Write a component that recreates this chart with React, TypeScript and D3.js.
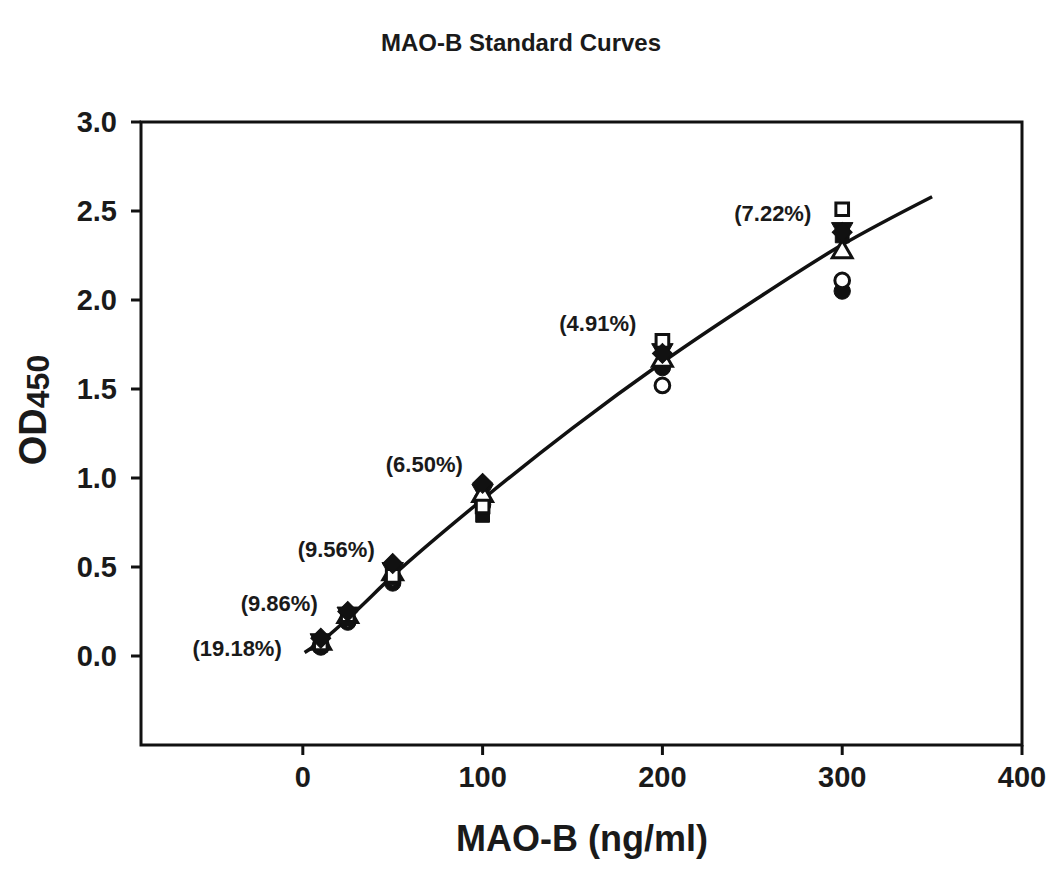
import React, { useEffect, useRef } from "react";
import * as d3 from "d3";

const concentrations = [10, 25, 50, 100, 200, 300];
const filledCircle = [0.05, 0.19, 0.41, 0.85, 1.62, 2.05];
const openCircle = [0.06, 0.2, 0.43, 0.88, 1.52, 2.11];
const filledTriDown = [0.09, 0.24, 0.49, 0.93, 1.72, 2.4];
const openTriUp = [0.07, 0.22, 0.46, 0.9, 1.66, 2.27];
const filledSquare = [0.06, 0.21, 0.44, 0.79, 1.76, 2.36];
const openSquare = [0.07, 0.23, 0.45, 0.84, 1.77, 2.51];
const filledDiamond = [0.1, 0.25, 0.52, 0.97, 1.7, 2.38];

const fitX = [1, 10, 25, 50, 100, 150, 200, 250, 300, 350];
const fitY = [0.02, 0.08, 0.21, 0.45, 0.88, 1.28, 1.65, 1.99, 2.31, 2.58];

const cvLabels = ["(19.18%)", "(9.86%)", "(9.56%)", "(6.50%)", "(4.91%)", "(7.22%)"];
const cvLabelX = [-11.7, 8.3, 40, 89, 185.5, 282.8];
const cvLabelY = [0.045, 0.3, 0.6, 1.08, 1.87, 2.49];

const xTicks = [0, 100, 200, 300, 400];
const yTicks = [0, 0.5, 1, 1.5, 2, 2.5, 3];

const FONT = "'Liberation Sans', Arial, Helvetica, sans-serif";

export default function App() {
  const ref = useRef<SVGSVGElement | null>(null);

  useEffect(() => {
    const svg = d3.select(ref.current);
    svg.selectAll("*").remove();

    const x = d3.scaleLinear().domain([-90, 400]).range([141, 1022]);
    const y = d3.scaleLinear().domain([-0.5, 3.0]).range([745, 122]);

    // title
    svg.append("text")
      .attr("x", 521).attr("y", 51)
      .attr("text-anchor", "middle")
      .attr("font-family", FONT).attr("font-weight", "bold").attr("font-size", 24)
      .attr("fill", "#1a1a1a")
      .text("MAO-B Standard Curves");

    // frame
    svg.append("rect")
      .attr("x", x(-90)).attr("y", y(3)).attr("width", x(400) - x(-90)).attr("height", y(-0.5) - y(3))
      .attr("fill", "none").attr("stroke", "#111").attr("stroke-width", 3);

    // x ticks
    const gx = svg.append("g");
    xTicks.forEach((t) => {
      gx.append("line")
        .attr("x1", x(t)).attr("x2", x(t)).attr("y1", y(-0.5)).attr("y2", y(-0.5) + 10)
        .attr("stroke", "#111").attr("stroke-width", 3);
      gx.append("text")
        .attr("x", x(t)).attr("y", y(-0.5) + 42)
        .attr("text-anchor", "middle")
        .attr("font-family", FONT).attr("font-weight", "bold").attr("font-size", 29)
        .attr("fill", "#1a1a1a")
        .text(d3.format("d")(t));
    });

    // y ticks
    const gy = svg.append("g");
    yTicks.forEach((t) => {
      gy.append("line")
        .attr("x1", x(-90) - 10).attr("x2", x(-90)).attr("y1", y(t)).attr("y2", y(t))
        .attr("stroke", "#111").attr("stroke-width", 3);
      gy.append("text")
        .attr("x", x(-90) - 24).attr("y", y(t) + 10)
        .attr("text-anchor", "end")
        .attr("font-family", FONT).attr("font-weight", "bold").attr("font-size", 29)
        .attr("fill", "#1a1a1a")
        .text(d3.format(".1f")(t));
    });

    // axis labels
    svg.append("text")
      .attr("x", 582).attr("y", 851)
      .attr("text-anchor", "middle")
      .attr("font-family", FONT).attr("font-weight", "bold").attr("font-size", 36)
      .attr("fill", "#1a1a1a")
      .text("MAO-B (ng/ml)");

    const yl = svg.append("text")
      .attr("transform", "translate(46,410) rotate(-90)")
      .attr("text-anchor", "middle")
      .attr("font-family", FONT).attr("font-weight", "bold")
      .attr("fill", "#1a1a1a");
    yl.append("tspan").attr("font-size", 38).text("OD");
    yl.append("tspan").attr("font-size", 32).attr("dy", 3).text("450");

    // fit curve
    const line = d3.line<number>()
      .x((d, i) => x(fitX[i]))
      .y((d) => y(d))
      .curve(d3.curveMonotoneX);
    svg.append("path")
      .attr("d", line(fitY) || "")
      .attr("fill", "none").attr("stroke", "#111").attr("stroke-width", 3.5);

    // markers
    const series = [
      { vals: filledCircle, type: d3.symbolCircle, size: 210, filled: true, rot: 0 },
      { vals: openCircle, type: d3.symbolCircle, size: 170, filled: false, rot: 0 },
      { vals: filledTriDown, type: d3.symbolTriangle, size: 200, filled: true, rot: 180 },
      { vals: openTriUp, type: d3.symbolTriangle, size: 170, filled: false, rot: 0 },
      { vals: filledSquare, type: d3.symbolSquare, size: 190, filled: true, rot: 0 },
      { vals: openSquare, type: d3.symbolSquare, size: 160, filled: false, rot: 0 },
      { vals: filledDiamond, type: d3.symbolSquare, size: 200, filled: true, rot: 45 },
    ];
    series.forEach((s) => {
      const path = d3.symbol().type(s.type).size(s.size)() || "";
      svg.append("g").selectAll("path")
        .data(s.vals)
        .join("path")
        .attr("d", path)
        .attr("transform", (d, i) => `translate(${x(concentrations[i])},${y(d)}) rotate(${s.rot})`)
        .attr("fill", s.filled ? "#111" : "#fff")
        .attr("stroke", "#111")
        .attr("stroke-width", s.filled ? 1 : 3);
    });

    // CV labels
    cvLabels.forEach((lab, i) => {
      svg.append("text")
        .attr("x", x(cvLabelX[i])).attr("y", y(cvLabelY[i]) + 8)
        .attr("text-anchor", "end")
        .attr("font-family", FONT).attr("font-weight", "bold").attr("font-size", 22)
        .attr("fill", "#1a1a1a")
        .text(lab);
    });
  }, []);

  return (
    <div style={{ position: "absolute", left: 0, top: 0 }}>
      <svg ref={ref} width={1050} height={869} style={{ display: "block", background: "#fff" }} />
    </div>
  );
}
